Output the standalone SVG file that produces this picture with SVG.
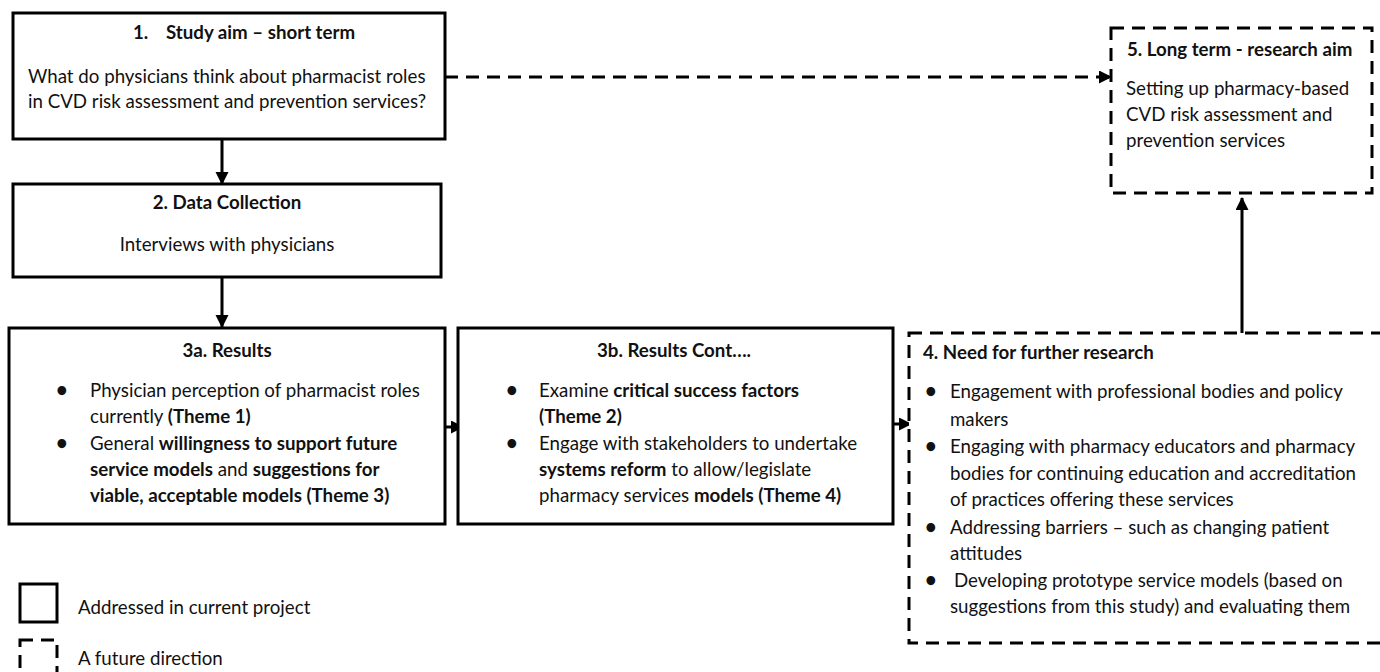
<svg xmlns="http://www.w3.org/2000/svg" width="1380" height="672" viewBox="0 0 1380 672">
<style>
text{font-family:Lato,"Liberation Sans",sans-serif;font-size:18.7px;fill:#111}
.b{font-weight:bold}
.solid{fill:#fff;stroke:#000;stroke-width:3}
.dash{fill:#fff;stroke:#000;stroke-width:3;stroke-dasharray:13 8}
.c{text-anchor:middle}
.ln{stroke:#000;stroke-width:3;fill:none}
.dl{stroke:#000;stroke-width:3;fill:none;stroke-dasharray:13 8}
.bu{font-size:20px;font-weight:bold}
</style>
<defs>
<marker id="ah" markerUnits="userSpaceOnUse" markerWidth="14" markerHeight="14" refX="12" refY="6.5" orient="auto">
<path d="M0,0 L13,6.5 L0,13 Z" fill="#000"/>
</marker>
</defs>
<rect width="1380" height="672" fill="#fff"/>

<g id="connectors">
<line class="ln" x1="222" y1="139" x2="222" y2="184" marker-end="url(#ah)"/>
<line class="ln" x1="222" y1="277" x2="222" y2="327" marker-end="url(#ah)"/>
<line class="dl" x1="445" y1="77" x2="1111" y2="77" marker-end="url(#ah)"/>
<line class="ln" x1="445" y1="427" x2="463" y2="427" marker-end="url(#ah)"/>
<line class="ln" x1="893" y1="424" x2="911" y2="424" marker-end="url(#ah)"/>
<line class="ln" x1="1242" y1="333" x2="1242" y2="198" marker-end="url(#ah)"/>
</g>

<g id="node1">
<rect class="solid" x="13" y="13" width="432" height="126"/>
<text class="b" x="133" y="39">1.<tspan x="166">Study aim – short term</tspan></text>
<text x="28" y="83">What do physicians think about pharmacist roles</text>
<text x="28" y="108">in CVD risk assessment  and prevention services?</text>
</g>

<g id="node2">
<rect class="solid" x="13" y="184" width="428" height="93"/>
<text class="b c" x="227" y="209">2. Data Collection</text>
<text class="c" x="227" y="251">Interviews with physicians</text>
</g>

<g id="node3a">
<rect class="solid" x="9" y="328" width="436" height="196"/>
<text class="b c" x="227" y="357">3a. Results</text>
<text class="bu" x="56" y="397">•</text>
<text x="90" y="397">Physician perception of pharmacist roles</text>
<text x="90" y="423">currently <tspan class="b">(Theme 1)</tspan></text>
<text class="bu" x="56" y="450">•</text>
<text x="90" y="450">General <tspan class="b">willingness to support future</tspan></text>
<text x="90" y="476"><tspan class="b">service models</tspan> and <tspan class="b">suggestions for</tspan></text>
<text x="90" y="502" class="b">viable, acceptable models (Theme 3)</text>
</g>

<g id="node3b">
<rect class="solid" x="458" y="328" width="435" height="196"/>
<text class="b c" x="674" y="357">3b. Results Cont….</text>
<text class="bu" x="506" y="397">•</text>
<text x="539" y="397">Examine <tspan class="b">critical success factors</tspan></text>
<text x="539" y="423" class="b">(Theme 2)</text>
<text class="bu" x="506" y="450">•</text>
<text x="539" y="450">Engage with stakeholders to undertake</text>
<text x="539" y="476"><tspan class="b">systems reform</tspan> to allow/legislate</text>
<text x="539" y="502">pharmacy services <tspan class="b">models (Theme 4)</tspan></text>
</g>

<g id="node4">
<rect class="dash" x="909" y="333" width="490" height="310"/>
<text class="b" x="923" y="359">4. Need for further research</text>
<text class="bu" x="925" y="398">•</text>
<text x="950" y="398">Engagement  with professional  bodies and policy</text>
<text x="950" y="426">makers</text>
<text class="bu" x="925" y="453">•</text>
<text x="950" y="453">Engaging with pharmacy educators and pharmacy</text>
<text x="950" y="480">bodies for continuing education and accreditation</text>
<text x="950" y="506">of practices offering these services</text>
<text class="bu" x="925" y="534">•</text>
<text x="950" y="534">Addressing barriers – such as changing patient</text>
<text x="950" y="560">attitudes</text>
<text class="bu" x="925" y="587">•</text>
<text x="954" y="587">Developing prototype service models (based on</text>
<text x="950" y="613">suggestions  from this study) and evaluating them</text>
</g>

<g id="node5">
<rect class="dash" x="1111" y="28" width="261" height="165"/>
<text class="b" x="1127" y="56">5. Long term - research aim</text>
<text x="1126" y="95">Setting up pharmacy-based</text>
<text x="1126" y="121">CVD risk assessment  and</text>
<text x="1126" y="147">prevention services</text>
</g>

<g id="legend">
<rect class="solid" x="20" y="584" width="37" height="38" fill="none"/>
<text x="78" y="614">Addressed in current project</text>
<rect class="dash" x="20" y="640" width="37" height="40"/>
<text x="78" y="665">A future direction</text>
</g>
</svg>
